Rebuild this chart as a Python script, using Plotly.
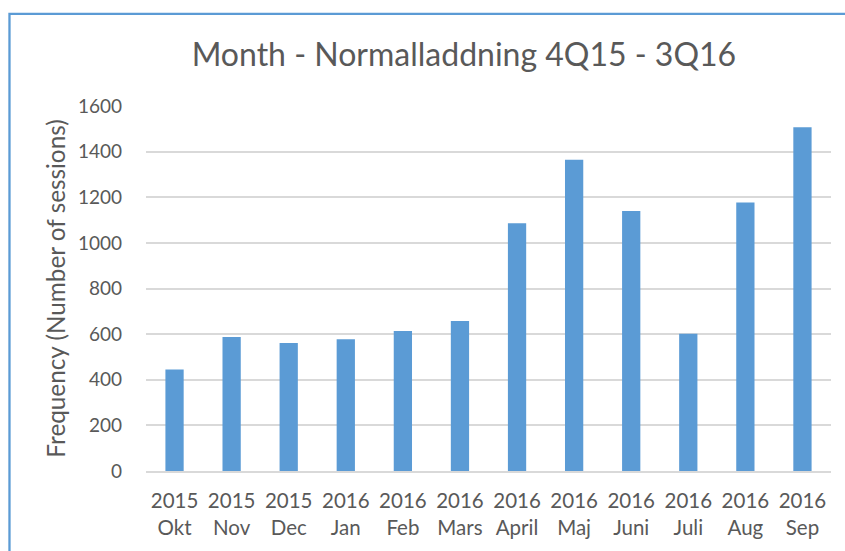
import plotly.graph_objects as go

years = ["2015", "2015", "2015", "2016", "2016", "2016", "2016", "2016", "2016", "2016", "2016", "2016"]
months = ["Okt", "Nov", "Dec", "Jan", "Feb", "Mars", "April", "Maj", "Juni", "Juli", "Aug", "Sep"]
sessions = [445, 587, 561, 577, 614, 658, 1086, 1364, 1140, 602, 1177, 1507]
y_ticks = [0, 200, 400, 600, 800, 1000, 1200, 1400, 1600]

labels = [f"{y}<br>{m}" for y, m in zip(years, months)]

FONT = "Lato, 'Open Sans', sans-serif"
TXT = "#595959"

fig = go.Figure(go.Bar(x=labels, y=sessions, marker=dict(color="#5B9BD5", line=dict(width=0))))

fig.update_layout(
    width=845, height=551,
    margin=dict(l=146, r=14, t=106, b=80),
    paper_bgcolor="white", plot_bgcolor="white",
    bargap=0.68,
    showlegend=False,
    title=dict(text="Month - Normalladdning 4Q15 - 3Q16", x=0.549, xanchor="center",
               y=0.900, yanchor="middle", yref="container",
               font=dict(family=FONT, size=32, color=TXT)),
    font=dict(family=FONT, color=TXT),
)
fig.update_xaxes(showgrid=False, showline=True, linecolor="#D9D9D9", linewidth=1.5,
                 tickfont=dict(size=20.5, color=TXT), ticks="", ticklabelstandoff=11)
fig.update_yaxes(range=[0, 1600], tickvals=y_ticks, showgrid=True, gridcolor="#D9D9D9", gridwidth=1.5,
                 zeroline=False, showline=False, ticks="", ticklabelstandoff=23,
                 tickfont=dict(size=19, color=TXT),
                 title=dict(text="Frequency (Number of sessions)", font=dict(size=24.3, color=TXT), standoff=5))

# chart-area border: only its top and left edges fall inside the crop
fig.add_shape(type="rect", xref="paper", yref="paper", x0=-0.1993, x1=1.2, y0=-0.4, y1=1.2526,
              line=dict(color="#5B9BD5", width=2.3), fillcolor="rgba(0,0,0,0)", layer="below")

fig.write_html("out.html",
               config={"displayModeBar": False},
               post_script="document.body.style.margin='0';document.body.style.overflow='hidden';")
